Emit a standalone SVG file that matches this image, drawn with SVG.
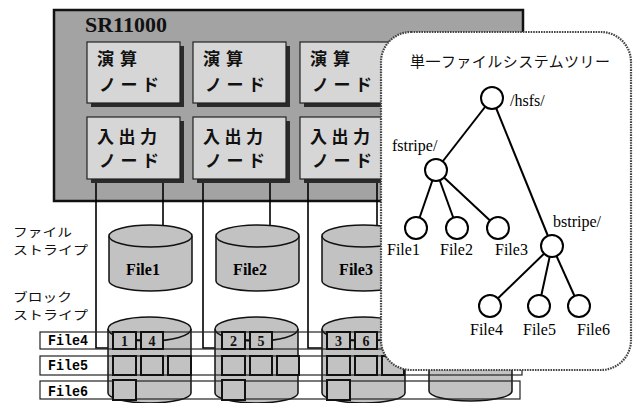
<svg xmlns="http://www.w3.org/2000/svg" width="634" height="403" viewBox="0 0 634 403">
<style>
.serif{font-family:"Liberation Serif","Times New Roman",serif;}
.jp{font-family:"Noto Sans CJK JP","Noto Sans",sans-serif;}
.mono{font-family:"Liberation Mono","Courier New",monospace;font-weight:bold;}
.box{fill:#d6d6d6;stroke:#222;stroke-width:1.2;}
.shadow{fill:#2a2a2a;}
.cyl{fill:#c2c2c2;stroke:#111;stroke-width:1.5;}
.blk{fill:#c2c2c2;stroke:#111;stroke-width:2;}
.strip{fill:none;stroke:#222;stroke-width:1.2;}
.wire{fill:none;stroke:#000;stroke-width:1.6;}
.tline{stroke:#000;stroke-width:2;}
.tnode{fill:#fff;stroke:#000;stroke-width:2;}
.nt{font-size:17px;font-weight:bold;fill:#111;}
.tl{font-size:16px;fill:#000;}
.bn{font-size:14px;font-weight:bold;fill:#111;text-anchor:middle;}
</style>

<g id="sr11000">
<rect x="54" y="10" width="469" height="191" fill="#a3a3a3" stroke="#111" stroke-width="2.5"/>
<text class="serif" x="85" y="32" font-size="22" font-weight="bold" fill="#111">SR11000</text>
</g>

<g id="calc1"><rect class="shadow" x="91" y="46" width="93" height="61"/><rect class="box" x="87" y="42" width="93" height="61"/><text class="jp nt" x="97" y="65" textLength="40">演算</text><text class="jp nt" x="99" y="91" textLength="60">ノード</text></g>
<g id="calc2"><rect class="shadow" x="197" y="46" width="93" height="61"/><rect class="box" x="193" y="42" width="93" height="61"/><text class="jp nt" x="203" y="65" textLength="40">演算</text><text class="jp nt" x="205" y="91" textLength="60">ノード</text></g>
<g id="calc3"><rect class="shadow" x="304" y="46" width="93" height="61"/><rect class="box" x="300" y="42" width="93" height="61"/><text class="jp nt" x="310" y="65" textLength="40">演算</text><text class="jp nt" x="312" y="91" textLength="60">ノード</text></g>

<g id="io1"><rect class="shadow" x="91" y="121" width="93" height="62"/><rect class="box" x="87" y="117" width="93" height="62"/><text class="jp nt" x="97" y="143" textLength="60">入出力</text><text class="jp nt" x="99" y="167" textLength="60">ノード</text></g>
<g id="io2"><rect class="shadow" x="197" y="121" width="93" height="62"/><rect class="box" x="193" y="117" width="93" height="62"/><text class="jp nt" x="203" y="143" textLength="60">入出力</text><text class="jp nt" x="205" y="167" textLength="60">ノード</text></g>
<g id="io3"><rect class="shadow" x="304" y="121" width="93" height="62"/><rect class="box" x="300" y="117" width="93" height="62"/><text class="jp nt" x="310" y="143" textLength="60">入出力</text><text class="jp nt" x="312" y="167" textLength="60">ノード</text></g>

<g id="connectors">
<path class="wire" d="M96,183 V348 H108"/>
<path class="wire" d="M163,183 V227"/>
<path class="wire" d="M203,183 V348 H215"/>
<path class="wire" d="M270,183 V227"/>
<path class="wire" d="M308,183 V348 H322"/>
<path class="wire" d="M377,183 V227"/>
</g>

<g id="side-labels" class="jp" font-size="12" fill="#111">
<text x="13" y="237" textLength="59" lengthAdjust="spacingAndGlyphs">ファイル</text>
<text x="13" y="255" textLength="75" lengthAdjust="spacingAndGlyphs">ストライプ</text>
<text x="13" y="302" textLength="59" lengthAdjust="spacingAndGlyphs">ブロック</text>
<text x="13" y="320" textLength="75" lengthAdjust="spacingAndGlyphs">ストライプ</text>
</g>

<g id="file-cyl1"><path class="cyl" d="M109,236 A41.5,11 0 0 1 192,236 V281 A41.5,10 0 0 1 109,281 Z"/><path class="cyl" fill="none" d="M109,236 A41.5,11 0 0 0 192,236"/><text class="serif" x="143" y="275" font-size="16" font-weight="bold" text-anchor="middle">File1</text></g>
<g id="file-cyl2"><path class="cyl" d="M216,236 A41.5,11 0 0 1 299,236 V281 A41.5,10 0 0 1 216,281 Z"/><path class="cyl" fill="none" d="M216,236 A41.5,11 0 0 0 299,236"/><text class="serif" x="250" y="275" font-size="16" font-weight="bold" text-anchor="middle">File2</text></g>
<g id="file-cyl3"><path class="cyl" d="M322,236 A41.5,11 0 0 1 405,236 V281 A41.5,10 0 0 1 322,281 Z"/><path class="cyl" fill="none" d="M322,236 A41.5,11 0 0 0 405,236"/><text class="serif" x="356" y="275" font-size="16" font-weight="bold" text-anchor="middle">File3</text></g>

<g id="block-cyl1"><path class="cyl" d="M108,329 A41.5,12 0 0 1 191,329 V393 A41.5,10 0 0 1 108,393 Z"/><path class="cyl" fill="none" d="M108,329 A41.5,12 0 0 0 191,329"/></g>
<g id="block-cyl2"><path class="cyl" d="M215,329 A41.5,12 0 0 1 298,329 V393 A41.5,10 0 0 1 215,393 Z"/><path class="cyl" fill="none" d="M215,329 A41.5,12 0 0 0 298,329"/></g>
<g id="block-cyl3"><path class="cyl" d="M322,329 A41.5,12 0 0 1 405,329 V393 A41.5,10 0 0 1 322,393 Z"/><path class="cyl" fill="none" d="M322,329 A41.5,12 0 0 0 405,329"/></g>
<g id="block-cyl4"><path class="cyl" d="M429,329 A41.5,12 0 0 1 512,329 V391 A41.5,10 0 0 1 429,391 Z"/></g>

<g id="strips">
<rect class="strip" x="40" y="332" width="480" height="17"/>
<rect class="strip" x="40" y="356" width="482" height="19"/>
<rect class="strip" x="40" y="381" width="480" height="18"/>
<text class="mono" x="48" y="345" font-size="15" textLength="40" lengthAdjust="spacingAndGlyphs">File4</text>
<text class="mono" x="48" y="370" font-size="15" textLength="40" lengthAdjust="spacingAndGlyphs">File5</text>
<text class="mono" x="48" y="396" font-size="15" textLength="40" lengthAdjust="spacingAndGlyphs">File6</text>
</g>

<g id="blocks1">
<rect class="blk" x="113" y="332" width="23" height="17"/><rect class="blk" x="141" y="332" width="22" height="17"/>
<line x1="136" y1="340" x2="141" y2="340" stroke="#111" stroke-width="1.5"/>
<text class="serif bn" x="124.5" y="346">1</text><text class="serif bn" x="152" y="346">4</text>
<rect class="blk" x="113" y="356" width="23" height="19"/><rect class="blk" x="141" y="356" width="22" height="19"/><rect class="blk" x="168" y="356" width="23" height="19"/>
<rect class="blk" x="113" y="380" width="23" height="20"/>
</g>
<g id="blocks2">
<rect class="blk" x="222" y="332" width="23" height="17"/><rect class="blk" x="250" y="332" width="22" height="17"/>
<line x1="245" y1="340" x2="250" y2="340" stroke="#111" stroke-width="1.5"/>
<text class="serif bn" x="233.5" y="346">2</text><text class="serif bn" x="261" y="346">5</text>
<rect class="blk" x="222" y="356" width="23" height="19"/><rect class="blk" x="250" y="356" width="22" height="19"/><rect class="blk" x="277" y="356" width="22" height="19"/>
<rect class="blk" x="222" y="380" width="23" height="20"/>
</g>
<g id="blocks3">
<rect class="blk" x="327" y="332" width="23" height="17"/><rect class="blk" x="355" y="332" width="22" height="17"/>
<line x1="350" y1="340" x2="355" y2="340" stroke="#111" stroke-width="1.5"/>
<text class="serif bn" x="338.5" y="346">3</text><text class="serif bn" x="366" y="346">6</text>
<rect class="blk" x="327" y="356" width="23" height="19"/><rect class="blk" x="355" y="356" width="22" height="19"/><rect class="blk" x="382" y="356" width="22" height="19"/>
<rect class="blk" x="327" y="380" width="23" height="20"/>
</g>

<g id="tree-panel">
<rect x="381" y="32" width="250" height="338" rx="30" ry="30" fill="#fff" stroke="#444" stroke-width="2.2" stroke-dasharray="1.6 1"/>
<text class="jp" x="410" y="67" font-size="15" textLength="200" fill="#111">単一ファイルシステムツリー</text>
</g>

<g id="tree-edges">
<line class="tline" x1="492" y1="98" x2="436" y2="170"/>
<line class="tline" x1="492" y1="98" x2="552" y2="246"/>
<line class="tline" x1="436" y1="170" x2="416" y2="228"/>
<line class="tline" x1="436" y1="170" x2="457" y2="228"/>
<line class="tline" x1="436" y1="170" x2="498" y2="228"/>
<line class="tline" x1="552" y1="246" x2="490" y2="306"/>
<line class="tline" x1="552" y1="246" x2="539" y2="306"/>
<line class="tline" x1="552" y1="246" x2="579" y2="306"/>
</g>

<g id="t-hsfs"><circle class="tnode" cx="492" cy="98" r="11"/><text class="serif tl" x="510" y="106">/hsfs/</text></g>
<g id="t-fstripe"><circle class="tnode" cx="436" cy="170" r="11"/><text class="serif tl" x="392" y="151">fstripe/</text></g>
<g id="t-bstripe"><circle class="tnode" cx="552" cy="246" r="11"/><text class="serif tl" x="553" y="227">bstripe/</text></g>
<g id="t-file1"><circle class="tnode" cx="416" cy="228" r="11"/><text class="serif tl" x="387" y="255" font-size="17">File1</text></g>
<g id="t-file2"><circle class="tnode" cx="457" cy="228" r="11"/><text class="serif tl" x="440" y="255" font-size="17">File2</text></g>
<g id="t-file3"><circle class="tnode" cx="498" cy="228" r="11"/><text class="serif tl" x="495" y="255" font-size="17">File3</text></g>
<g id="t-file4"><circle class="tnode" cx="490" cy="306" r="11"/><text class="serif tl" x="470" y="335" font-size="17">File4</text></g>
<g id="t-file5"><circle class="tnode" cx="539" cy="306" r="11"/><text class="serif tl" x="523" y="335" font-size="17">File5</text></g>
<g id="t-file6"><circle class="tnode" cx="579" cy="306" r="11"/><text class="serif tl" x="577" y="335" font-size="17">File6</text></g>
</svg>
